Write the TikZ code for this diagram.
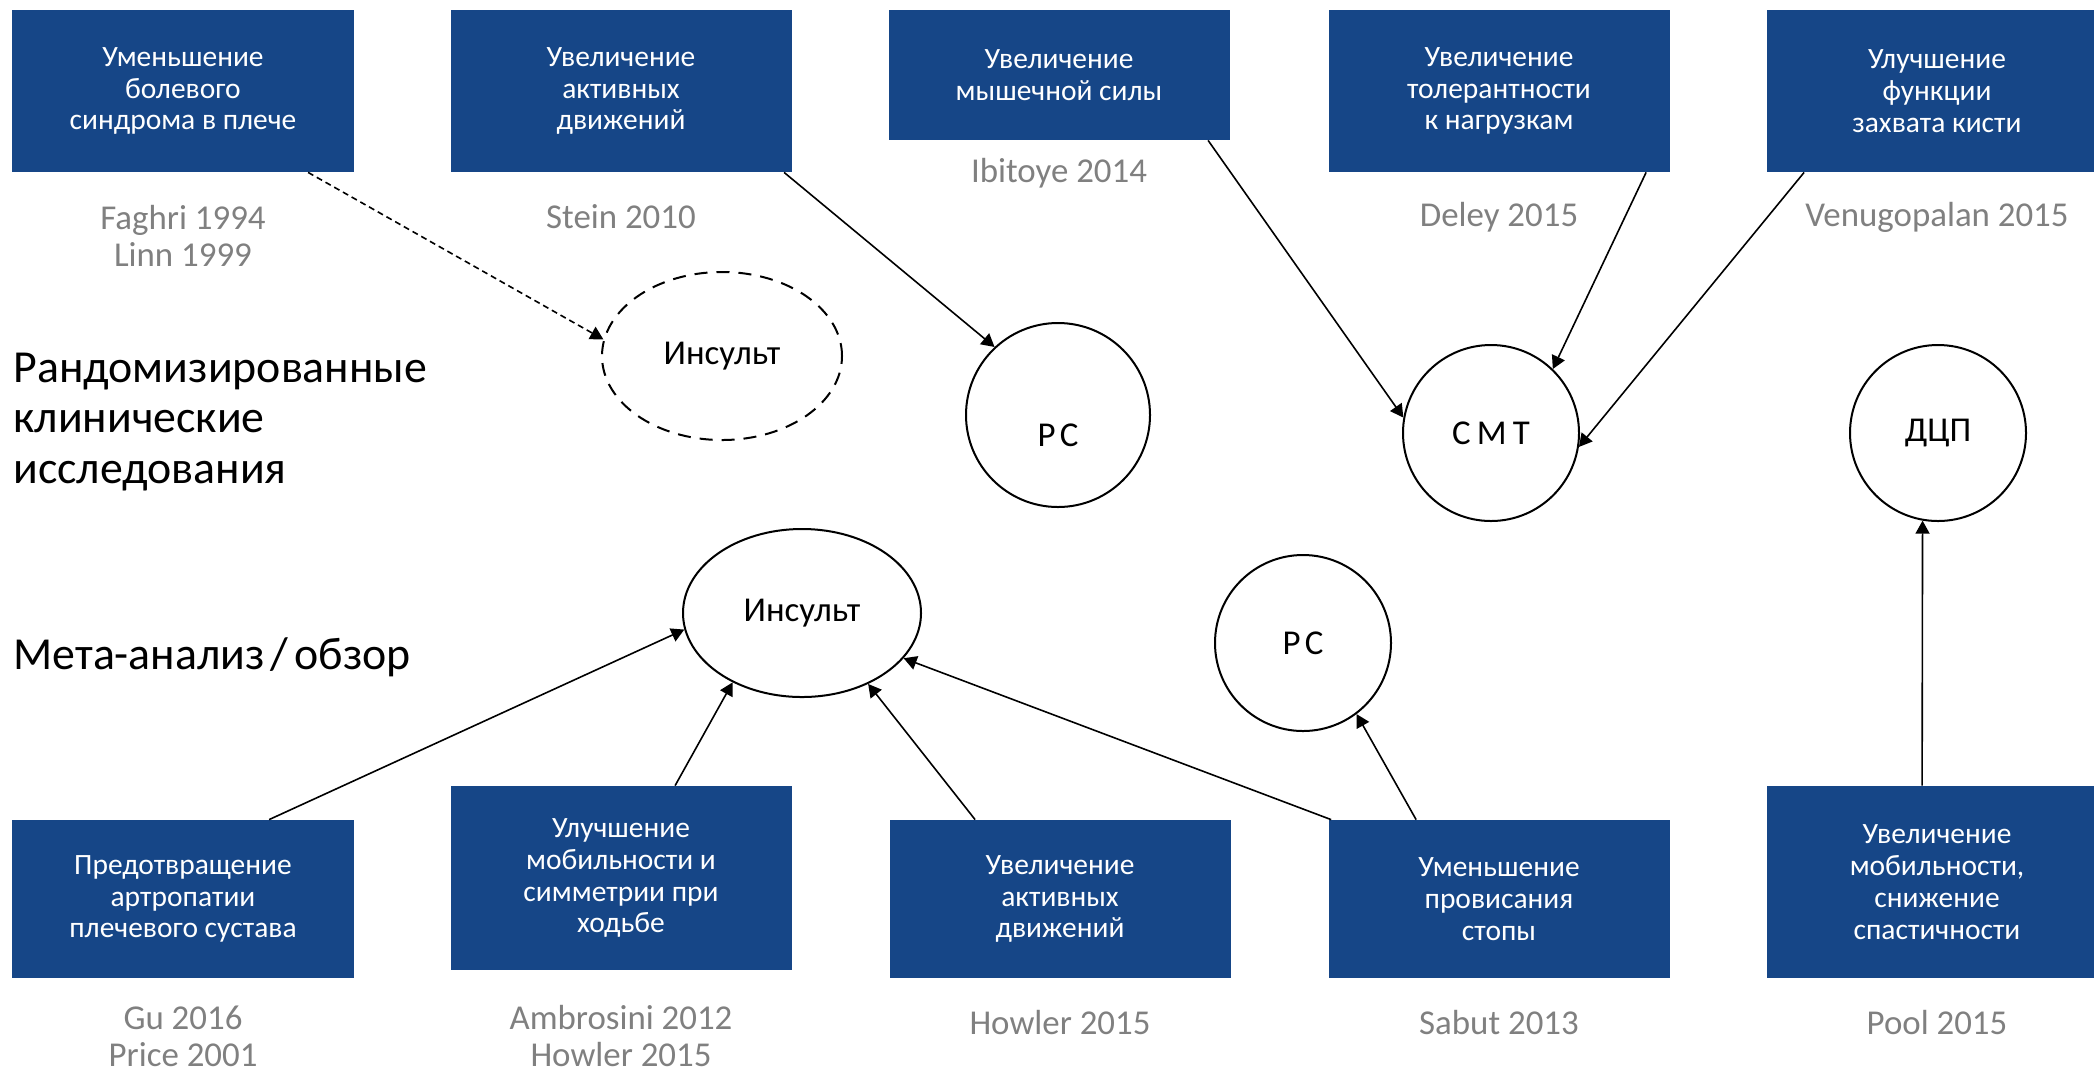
\documentclass[tikz,border=0pt]{standalone}
\usepackage{fontspec}
\setmainfont{Carlito}
\usetikzlibrary{arrows.meta,shapes.geometric}
\definecolor{boxblue}{HTML}{164687}
\definecolor{citegray}{HTML}{808080}
\begin{document}
\begin{tikzpicture}[x=0.5bp,y=-0.5bp,
  box/.style={fill=boxblue, draw=none, text=white, align=center, minimum width=170.5bp, inner sep=0pt, font=\fontsize{14.8}{16}\selectfont},
  cite/.style={text=citegray, align=center, inner sep=0pt, font=\fontsize{17.5}{18.5}\selectfont},
  oval/.style={ellipse, draw, line width=1bp, inner sep=0pt, font=\fontsize{17.5}{20}\selectfont},
  rnd/.style={circle, draw, line width=1bp, inner sep=0pt, minimum size=88bp, font=\fontsize{17.5}{20}\selectfont},
  ctext/.style={inner sep=0pt, font=\fontsize{17.5}{20}\selectfont},
  arr/.style={-{Triangle[length=6.5bp,width=7bp]}, line width=0.8bp},
  heading/.style={anchor=west, align=left, inner sep=0pt, font=\fontsize{23}{25.5}\selectfont}
]
\useasboundingbox (0,0) rectangle (2094,1073);
\clip (0,0) rectangle (2094,1073);

% top boxes
\node[box, minimum height=81bp] (t1) at (183,91) {Уменьшение\\болевого\\синдрома в плече};
\node[box, minimum height=81bp] (t2) at (621,91) {Увеличение\\активных\\движений};
\node[box, minimum height=65bp] (t3) at (1059,75) {Увеличение\\мышечной силы};
\node[box, minimum height=81bp] (t4) at (1499,91) {Увеличение\\толерантности\\к нагрузкам};
\node[box, minimum height=81bp] (t5) at (1937,91) {Улучшение\\функции\\захвата кисти};

% top citations
\node[cite] (c1) at (183,236) {Faghri 1994\\Linn 1999};
\node[cite] (c2) at (621,217) {Stein 2010};
\node[cite] (c3) at (1059,173) {Ibitoye 2014};
\node[cite] (c4) at (1499,217) {Deley 2015};
\node[cite] (c5) at (1937,217) {Venugopalan 2015};

% headings
\node[heading] (h1) at (13,422) {Рандомизированные\\клинические\\исследования};
\node[heading] (h2) at (13,657) {Мета-анализ\hspace{3bp}/\hspace{3bp}обзор};

% top row targets
\node[oval, dashed, dash pattern=on 6.5bp off 4.5bp, minimum width=120bp, minimum height=84bp] (ins1) at (722,356) {Инсульт};
\node[rnd, minimum size=92bp] (rs1) at (1058,415) {};
\node[ctext] (rs1t) at (1058,435) {\addfontfeatures{LetterSpace=12}РС};
\node[rnd] (smt) at (1491,433) {\addfontfeatures{LetterSpace=18}СМТ};
\node[rnd] (dcp) at (1938,433) {ДЦП};

% bottom row targets
\node[oval, minimum width=119bp, minimum height=84bp] (ins2) at (802,613) {Инсульт};
\node[rnd] (rs2) at (1303,643) {\addfontfeatures{LetterSpace=12}РС};

% bottom boxes
\node[box, minimum height=79bp] (b1) at (183,899) {Предотвращение\\артропатии\\плечевого сустава};
\node[box, minimum height=92bp] (b2) at (621,878) {Улучшение\\мобильности и\\симметрии при\\ходьбе};
\node[box, minimum height=79bp] (b3) at (1060,899) {Увеличение\\активных\\движений};
\node[box, minimum height=79bp] (b4) at (1499,899) {Уменьшение\\провисания\\стопы};
\node[box, minimum height=96bp] (b5) at (1937,882) {Увеличение\\мобильности,\\снижение\\спастичности};

% bottom citations
\node[cite] (d1) at (183,1036) {Gu 2016\\Price 2001};
\node[cite] (d2) at (621,1036) {Ambrosini 2012\\Howler 2015};
\node[cite] (d3) at (1060,1022) {Howler 2015};
\node[cite] (d4) at (1499,1022) {Sabut 2013};
\node[cite] (d5) at (1937,1022) {Pool 2015};

% connectors, top
\draw[arr, dash pattern=on 3bp off 2bp] (t1.south west) ++(296,0) -- (ins1.172);
\draw[arr] (t2.south west) ++(334,0) -- (rs1.133);
\draw[arr] (t3.south west) ++(320,0) -- (smt.170);
\draw[arr] (t4.south west) ++(318,0) -- (smt.46);
\draw[arr] (t5.south west) ++(38,0) -- (smt.-9);

% connectors, bottom
\draw[arr] (b1.north west) ++(257,0) -- (ins2.188);
\draw[arr] (b2.north west) ++(225,0) -- (ins2.225);
\draw[arr] (b3.north west) ++(86,0) -- (ins2.-47);
\draw[arr] (b4.north west) ++(3,0) -- (ins2.-24);
\draw[arr] (b4.north west) ++(88,0) -- (rs2.-53);
\draw[arr] (b5.north west) ++(156,0) -- (dcp.-100);
\end{tikzpicture}
\end{document}
